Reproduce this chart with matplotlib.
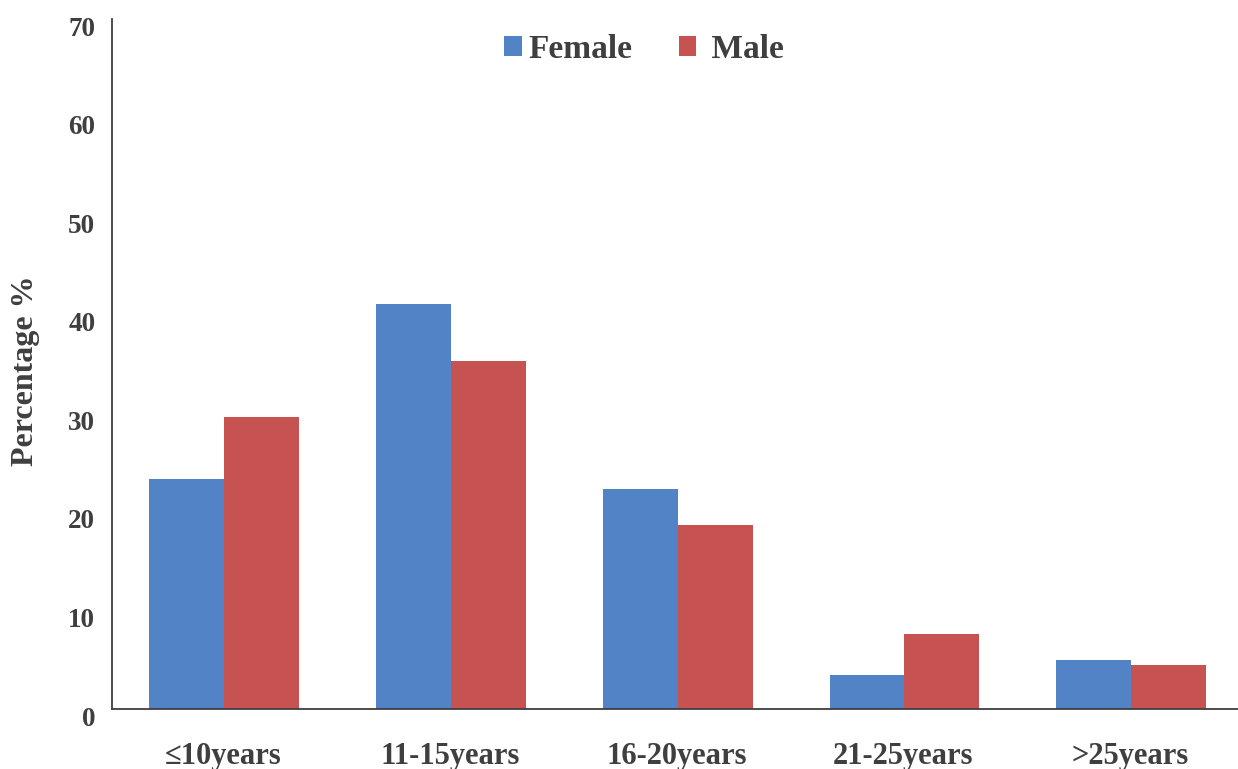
import matplotlib
matplotlib.use("Agg")
import matplotlib.pyplot as plt
import matplotlib.transforms as mtransforms
import numpy as np

# Percentage by years of service, split by sex
categories = ["≤10years", "11-15years", "16-20years", "21-25years", ">25years"]
female = [23.3, 41.1, 22.3, 3.5, 5.0]
male = [29.6, 35.3, 18.7, 7.6, 4.5]
y_ticks = [0, 10, 20, 30, 40, 50, 60, 70]

BLUE = "#5183C6"
RED = "#C65251"
TEXT = "#3F3F3F"

plt.rcParams["font.family"] = ["Liberation Serif", "DejaVu Serif"]
plt.rcParams["font.weight"] = "bold"

fig = plt.figure(figsize=(12.38, 7.69), dpi=100)
ax = fig.add_axes([112 / 1238, 1 - 709 / 769, 1 - 112 / 1238, (709 - 19) / 769])

x = np.arange(len(categories))
w = 0.33
ax.bar(x - w / 2 + 0.005, female, width=w, color=BLUE, label="Female")
ax.bar(x + w / 2 + 0.005, male, width=w, color=RED, label=" Male")

ax.set_xlim(-0.49, 4.476)
ax.set_ylim(0, 70)
ax.set_yticks(y_ticks)
ax.set_xticks(x)
ax.set_xticklabels(categories)

for s in ("top", "right"):
    ax.spines[s].set_visible(False)
for s in ("left", "bottom"):
    ax.spines[s].set_color(TEXT)
    ax.spines[s].set_linewidth(1.3)

ax.tick_params(axis="y", length=0, pad=12, labelsize=19.5, labelcolor=TEXT)
ax.tick_params(axis="x", length=0, pad=24, labelsize=22, labelcolor=TEXT)

# nudge the y labels a little below their tick positions
offset = mtransforms.ScaledTranslation(0, -7 / 100, fig.dpi_scale_trans)
for lbl in ax.get_yticklabels():
    lbl.set_transform(lbl.get_transform() + offset)

ax.set_ylabel("Percentage %", fontsize=23, fontweight="bold", color=TEXT,
              labelpad=22)
ax.yaxis.set_label_coords(-72 / 1126, 0.49)

leg = fig.legend(loc="upper center", bbox_to_anchor=(644 / 1238, 1 - 4 / 769),
                 ncol=2, frameon=False, fontsize=24,
                 handlelength=0.52, handleheight=0.52, handletextpad=0.2,
                 columnspacing=1.4)
for t in leg.get_texts():
    t.set_color(TEXT)

fig.savefig("out.png", dpi=100)
